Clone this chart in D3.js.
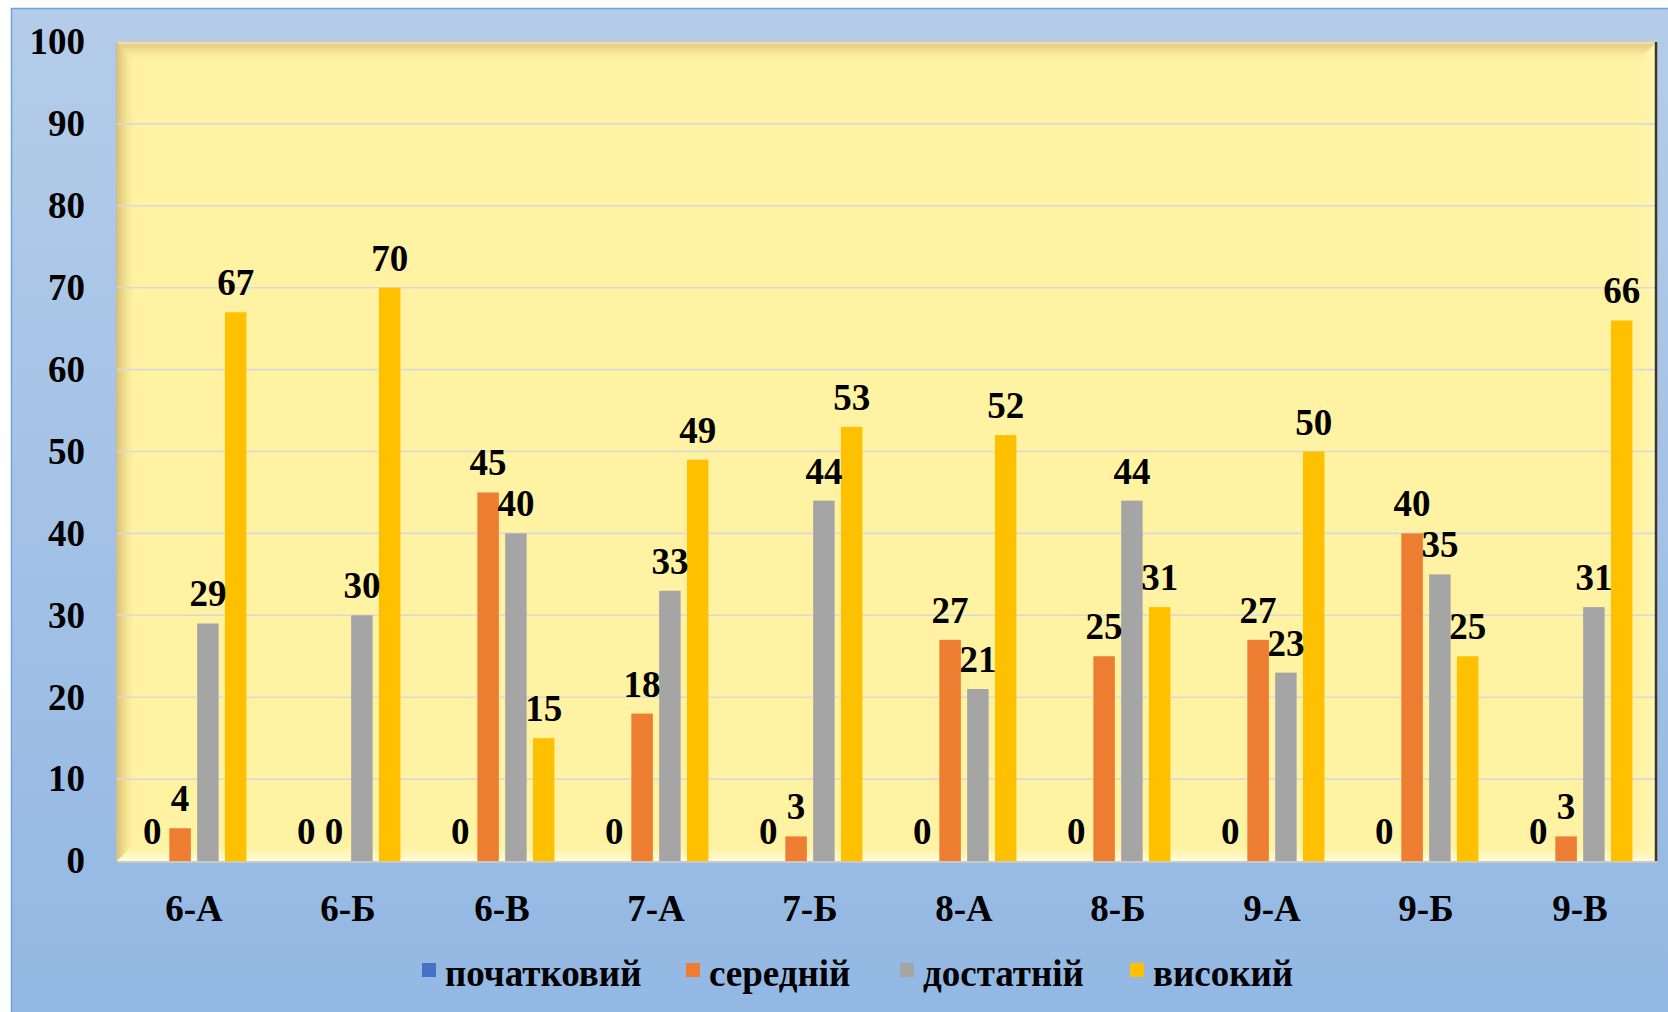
<!DOCTYPE html>
<html>
<head>
<meta charset="utf-8">
<script src="https://cdn.jsdelivr.net/npm/d3@7"></script>
<style>
  html, body { margin: 0; padding: 0; background: #ffffff; }
  svg { display: block; }
  text { font-family: "Liberation Serif", "Times New Roman", serif; font-weight: bold; fill: #000; }
</style>
</head>
<body>
<svg id="chart" width="1668" height="1012"></svg>
<script>
// ---- data ----
const categories = ["6-А", "6-Б", "6-В", "7-А", "7-Б", "8-А", "8-Б", "9-А", "9-Б", "9-В"];
const seriesNames = ["початковий", "середній", "достатній", "високий"];
const seriesColors = ["#4472C4", "#ED7D31", "#A5A5A5", "#FFC000"];
const pochatkovyi = [0, 0, 0, 0, 0, 0, 0, 0, 0, 0];
const serednii    = [4, 0, 45, 18, 3, 27, 25, 27, 40, 3];
const dostatnii   = [29, 30, 40, 33, 44, 21, 44, 23, 35, 31];
const vysokyi     = [67, 70, 15, 49, 53, 52, 31, 50, 25, 66];
const yTicks = [0, 10, 20, 30, 40, 50, 60, 70, 80, 90, 100];

const seriesValues = [pochatkovyi, serednii, dostatnii, vysokyi];

// ---- layout ----
const W = 1668, H = 1012;
const FS = 37;
const plot = { left: 117, top: 42, right: 1657, bottom: 861 };
const svg = d3.select("#chart");
const defs = svg.append("defs");

// outer background
const bg = defs.append("linearGradient").attr("id", "bgGrad")
  .attr("x1", 0).attr("y1", 0).attr("x2", 0).attr("y2", 1);
bg.append("stop").attr("offset", "0%").attr("stop-color", "#b4cce9");
bg.append("stop").attr("offset", "100%").attr("stop-color", "#93b8e3");
svg.append("rect").attr("x", 11).attr("y", 8).attr("width", W - 11).attr("height", H - 8)
  .attr("fill", "url(#bgGrad)");
svg.append("line").attr("x1", 11).attr("x2", W).attr("y1", 8.5).attr("y2", 8.5)
  .attr("stroke", "#6fa3dc").attr("stroke-width", 1.5);
svg.append("line").attr("x1", 11.5).attr("x2", 11.5).attr("y1", 8).attr("y2", H)
  .attr("stroke", "#6fa3dc").attr("stroke-width", 1.5);

// scales
const y = d3.scaleLinear().domain([0, 100]).range([plot.bottom, plot.top]);
const x0 = d3.scaleBand().domain(categories).range([plot.left, plot.right]).padding(0);
const groupHalf = 55.6;
const x1 = d3.scaleBand().domain(seriesNames)
  .range([x0.bandwidth() / 2 - groupHalf, x0.bandwidth() / 2 + groupHalf])
  .paddingInner(0.2266).paddingOuter(0.1133);

// plot area fill
svg.append("rect").attr("x", plot.left).attr("y", plot.top)
  .attr("width", plot.right - plot.left).attr("height", plot.bottom - plot.top)
  .attr("fill", "#fff2a2");

// bevel
const b = 20;
function grad(id, x1v, y1v, x2v, y2v, stops) {
  const g = defs.append("linearGradient").attr("id", id)
    .attr("x1", x1v).attr("y1", y1v).attr("x2", x2v).attr("y2", y2v);
  stops.forEach(s => g.append("stop").attr("offset", s[0]).attr("stop-color", s[1]).attr("stop-opacity", s[2]));
}
grad("bTop", 0, 0, 0, 1, [["0%", "#f7ecb0", 1], ["18%", "#e3cd86", 1], ["100%", "#fff2a2", 0]]);
grad("bLeft", 0, 0, 1, 0, [["0%", "#dcc47a", 1], ["25%", "#e9d384", 1], ["100%", "#fff2a2", 0]]);
grad("bRight", 1, 0, 0, 0, [["0%", "#fff9bc", 1], ["100%", "#fff2a2", 0]]);
grad("bBottom", 0, 1, 0, 0, [["0%", "#fffcdc", 1], ["100%", "#fff2a2", 0]]);

const L = plot.left, T = plot.top, R = plot.right, B = plot.bottom;
const poly = (pts, fill) => svg.append("polygon").attr("points", pts.map(p => p.join(",")).join(" ")).attr("fill", fill);
poly([[L, T], [R, T], [R - b, T + b], [L + b, T + b]], "url(#bTop)");
poly([[L, T], [L + b, T + b], [L + b, B - b], [L, B]], "url(#bLeft)");
poly([[R, T], [R, B], [R - b, B - b], [R - b, T + b]], "url(#bRight)");
poly([[L, B], [R, B], [R - b, B - b], [L + b, B - b]], "url(#bBottom)");

// gridlines
svg.append("g").selectAll("line").data(yTicks.filter(d => d > 0 && d < 100)).join("line")
  .attr("x1", L).attr("x2", R)
  .attr("y1", d => y(d)).attr("y2", d => y(d))
  .attr("stroke", "#d9d9d9").attr("stroke-width", 1.6);

// plot borders
svg.append("line").attr("x1", L).attr("x2", R).attr("y1", T - 0.5).attr("y2", T - 0.5)
  .attr("stroke", "#c9c9c9").attr("stroke-width", 1.6);
svg.append("line").attr("x1", L - 0.5).attr("x2", L - 0.5).attr("y1", T).attr("y2", B)
  .attr("stroke", "#c2bfa8").attr("stroke-width", 1.6);
svg.append("line").attr("x1", R - 1).attr("x2", R - 1).attr("y1", T).attr("y2", B)
  .attr("stroke", "#3e3622").attr("stroke-width", 2.5);

// bars
const groups = svg.append("g").selectAll("g").data(categories).join("g")
  .attr("transform", d => `translate(${x0(d)},0)`);
groups.selectAll("rect")
  .data((c, i) => seriesNames.map((s, k) => ({ s, k, v: seriesValues[k][i] })))
  .join("rect")
  .attr("x", d => x1(d.s))
  .attr("width", x1.bandwidth())
  .attr("y", d => y(d.v))
  .attr("height", d => y(0) - y(d.v))
  .attr("fill", d => seriesColors[d.k]);

// bottom border
svg.append("line").attr("x1", L).attr("x2", R).attr("y1", B + 1).attr("y2", B + 1)
  .attr("stroke", "#c9c9c9").attr("stroke-width", 2);

// data labels
groups.selectAll("text.lbl")
  .data((c, i) => seriesNames.map((s, k) => ({ s, k, v: seriesValues[k][i] })))
  .join("text").attr("class", "lbl")
  .attr("x", d => x1(d.s) + x1.bandwidth() / 2)
  .attr("y", d => y(d.v) - 17)
  .attr("text-anchor", "middle")
  .attr("font-size", FS)
  .text(d => d.v);

// y axis
const yAxis = svg.append("g").attr("transform", "translate(85,0)")
  .call(d3.axisLeft(y).tickValues(yTicks).tickSize(0).tickPadding(0));
yAxis.select(".domain").remove();
yAxis.selectAll("text").attr("font-size", FS).attr("font-family", "Liberation Serif, serif")
  .attr("font-weight", "bold").attr("fill", "#000");

// x axis
const xAxis = svg.append("g").attr("transform", `translate(0,${B})`)
  .call(d3.axisBottom(x0).tickSize(0).tickPadding(34));
xAxis.select(".domain").remove();
xAxis.selectAll("text").attr("font-size", FS).attr("font-family", "Liberation Serif, serif")
  .attr("font-weight", "bold").attr("fill", "#000");

// legend
const legendX = [422, 686, 900, 1130];
const legend = svg.append("g").selectAll("g").data(seriesNames).join("g")
  .attr("transform", (d, i) => `translate(${legendX[i]},0)`);
legend.append("rect").attr("x", 0).attr("y", 963).attr("width", 14).attr("height", 14)
  .attr("fill", (d, i) => seriesColors[i]);
legend.append("text").attr("x", 23).attr("y", 986).attr("font-size", FS).text(d => d);
</script>
</body>
</html>
